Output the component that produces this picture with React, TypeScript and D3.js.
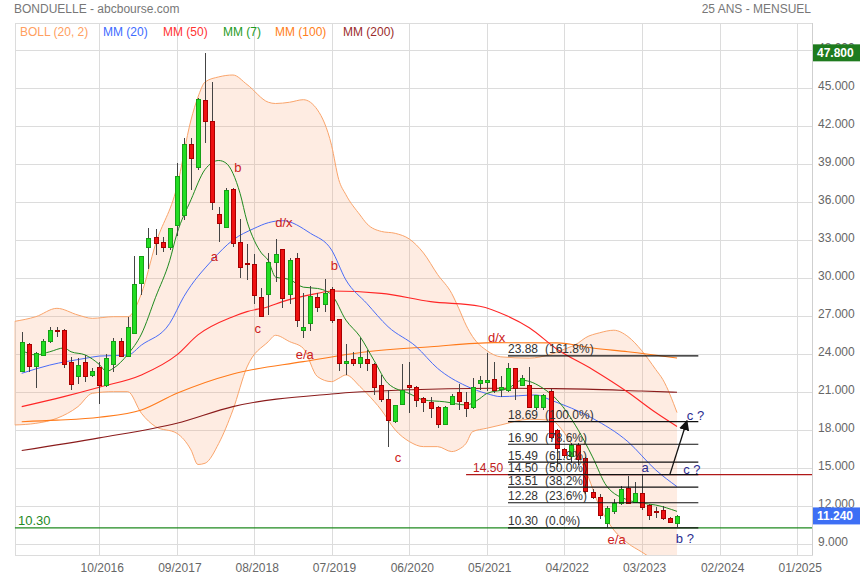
import React from "react";
import * as d3 from "d3";

// ---------- data ----------
const firstMonth = "2015-11";
const opens = [22.68,24.78,23.07,23.94,25.07,25.9,25.92,23.39,22.31,23.36,
  22.34,23.0,21.57,23.23,25.05,23.89,25.71,29.6,32.44,33.28,
  32.9,32.44,34.2,35.0,40.57,38.81,44.07,42.42,35.07,34.07,
  37.02,32.9,31.2,31.1,28.55,28.73,31.3,32.29,28.73,31.58,
  25.92,26.45,28.5,27.94,29.13,26.76,23.34,23.6,23.34,23.6,
  23.23,21.58,20.5,18.7,20.05,21.58,21.39,20.58,20.26,19.81,
  18.5,20.1,21.0,20.26,19.8,21.71,21.84,22.03,21.3,21.18,
  22.89,21.58,21.58,19.87,19.87,21.1,18.0,16.5,15.97,16.8,
  15.8,13.16,12.76,10.65,11.65,12.23,13.47,12.36,13.07,12.1,
  11.6,11.7,11.1,10.7];
const highs = [25.78,24.9,24.2,25.18,26.18,26.18,26.0,23.8,23.68,23.94,
  22.89,23.4,24.0,25.3,25.3,26.97,31.76,31.8,33.94,33.9,
  33.3,34.0,39.07,41.1,41.1,44.2,47.8,45.5,35.65,37.15,
  37.1,34.7,32.7,31.9,29.2,31.97,33.1,32.3,31.6,32.0,
  28.86,29.4,28.86,29.94,29.3,26.8,24.81,24.2,25.3,24.34,
  23.3,22.37,21.2,20.0,23.2,23.42,21.5,20.66,20.66,19.9,
  19.9,20.9,21.63,20.99,22.1,22.29,24.13,23.42,22.3,23.29,
  22.95,22.4,23.03,20.8,20.9,21.3,18.1,16.6,17.0,17.0,
  15.9,13.4,13.0,12.0,12.6,13.6,14.4,13.9,14.5,12.2,
  11.97,12.05,11.15,11.3];
const lows = [22.6,22.63,21.36,23.9,24.9,25.4,22.9,21.18,21.65,21.84,
  22.23,20.1,21.4,22.57,23.8,23.8,25.6,28.68,30.73,31.84,
  32.1,32.2,33.34,34.6,37.0,38.55,40.7,35.39,32.9,33.94,
  32.5,30.0,29.9,28.0,27.0,27.1,29.7,27.68,28.0,26.18,
  25.26,25.84,27.36,27.36,26.45,22.71,22.37,23.1,22.94,22.71,
  20.79,20.2,16.7,18.6,20.0,19.34,19.86,19.47,18.94,18.16,
  18.47,20.05,19.6,19.02,19.7,21.18,21.13,20.92,20.6,21.0,
  20.4,21.5,19.74,19.6,19.6,17.3,15.1,15.8,15.4,15.3,
  13.0,12.6,11.0,10.3,11.4,12.1,12.2,12.3,11.7,10.9,
  11.05,10.95,10.7,10.33];
const closes = [24.94,23.07,24.07,25.05,25.92,25.8,23.23,21.62,23.15,22.28,
  22.68,21.57,23.68,25.05,23.89,26.13,29.52,31.78,33.15,32.8,
  32.44,33.99,38.1,40.57,39.47,44.15,42.44,36.0,34.34,36.97,
  32.76,30.9,31.1,28.7,27.05,31.3,31.89,28.42,31.44,26.71,
  26.13,28.6,27.76,28.81,26.71,23.34,23.5,23.29,23.76,23.29,
  21.44,20.45,18.8,19.97,21.15,21.44,20.39,20.26,19.78,18.5,
  19.86,20.72,20.28,19.77,21.4,21.95,21.97,21.18,21.4,22.89,
  21.31,22.1,19.87,20.79,20.79,17.5,16.6,16.05,16.84,15.7,
  13.2,12.76,11.3,11.84,12.23,13.34,12.28,13.07,11.97,11.31,
  11.55,11.05,10.78,11.24];

// indicator samples (months counted from firstMonth)
const bandMonth = [-1,2,5,8,10,13,15,17,19,22,24,25,26,28,30,32,35,36,38,40,42,44,45,46,48,49,51,53,55,57,59,61,62,63,64,66,68,72,75,77,79,80,82,84,86,88,90,91,93];
const bandUpper = [26.6,26.97,27.63,27.1,26.84,26.97,26.97,28.8,32.7,37.2,42.5,44.3,45.5,45.9,46.05,45.3,43.9,43.8,43.9,44.1,43.3,40.5,37.8,36.6,35.0,34.3,33.7,33.55,33.1,32.0,30.3,28.8,27.6,26.3,25.4,24.3,23.8,23.7,24.0,24.4,24.9,25.3,25.7,25.9,25.4,24.3,22.8,22.0,19.4];
const bandLower = [18.42,18.55,18.95,19.87,20.92,21.05,21.05,19.34,18.29,17.76,16.45,15.3,15.4,16.97,19.6,23.0,25.0,25.5,25.0,24.47,22.24,21.84,22.1,22.37,21.45,20.9,19.6,18.03,17.11,16.71,16.71,16.32,16.5,16.97,17.89,18.16,18.42,18.87,18.8,17.8,15.9,14.87,11.97,10.13,9.08,8.4,7.7,7.4,7.0];

const mm20Month = [0,4,9,11,15,17,21,23,27,30,33,35,37,41,44,46,49,52,56,59,63,66,68,73,75,81,86,90,93];
const mm20Values = [22.5,23.15,23.68,23.86,23.94,24.73,26.44,28.55,31.44,33.02,33.94,34.39,34.55,33.55,32.24,29.87,28.0,26.18,24.6,22.89,21.5,20.9,20.66,20.79,20.39,18.95,17.1,14.87,13.55];

const mm50Month = [0,6,11,17,22,25,30,32,35,37,42,44,51,58,65,69,72,76,81,86,90,93];
const mm50Values = [19.87,20.66,21.4,22.37,23.95,25.53,26.97,27.37,27.76,28.16,28.81,29.0,28.81,28.16,27.8,27.0,26.1,24.4,22.8,21.0,19.4,18.3];

const mm7Month = [0,2,4,6,7,9,11,12,13,15,17,19,21,22,24,26,28,29,31,32,33,34,35,36,38,40,42,44,46,48,50,52,55,57,60,63,65,66,69,71,74,76,79,81,83,86,88,90,93];
const mm7Values = [24.3,23.95,24.2,24.5,24.2,23.95,23.2,22.65,22.9,24.0,25.6,28.5,31.4,33.5,36.2,38.6,39.3,39.1,36.7,34.5,33.0,32.0,31.4,30.1,29.9,29.3,29.2,28.7,26.7,25.4,23.5,21.7,20.9,20.4,20.25,20.0,20.5,20.9,21.3,21.95,21.3,20.4,18.0,15.9,13.6,12.5,12.25,12.1,11.6];

const mm100Month = [0,5,11,17,22,30,40,49,58,67,76,81,86,93];
const mm100Values = [18.68,18.8,19.03,19.6,20.92,22.45,23.42,24.2,24.6,24.92,24.9,24.5,24.2,23.7];

const mm200Month = [0,11,22,30,44,54,67,74,80,88,93];
const mm200Values = [16.4,17.4,18.55,19.87,20.87,21.18,21.32,21.3,21.25,21.1,21.0];

const fibValues = [23.88,18.69,16.90,15.49,14.50,13.51,12.28,10.30];
const fibPct = ["(161.8%)","(100.0%)","(78.6%)","(61.8%)","(50.0%)","(38.2%)","(23.6%)","(0.0%)"];
const fibFromMonth = 69;
const fibToMonth = 96;

const resistValue = 14.50;
const resistFromMonth = 63;
const supportValue = 10.30;

const arrowFrom = { month: 92, value: 14.5 };
const arrowTo = { month: 94.4, value: 18.75 };

const waveText = ["b","a","c","d/x","b","e/a","c","d/x","e/a"];
const waveMonth = [30.7,27.3,33.5,37.2,44.4,40.2,53.4,67.4,84.4];
const waveValue = [38.78,31.76,26.07,34.37,31.0,23.96,15.83,25.3,9.35];

const projText = ["a","c ?","c ?","b ?"];
const projMonth = [88.5,95.6,95.1,94.1];
const projValue = [15.1,19.2,14.92,9.47];

const xTickLabels = ["10/2016","09/2017","08/2018","07/2019","06/2020","05/2021","04/2022","03/2023","02/2024","01/2025"];
const yTickValues = [9,12,15,18,21,24,27,30,33,36,39,42,45,48];

const legendNames = ["BOLL (20, 2)","MM (20)","MM (50)","MM (7)","MM (100)","MM (200)"];

const maxPrice = 47.8;
const lastPrice = 11.24;

// ---------- layout ----------
const W = 860, H = 580;
const P = { left: 14.7, right: 812, top: 23, bottom: 555 };
const FONT = "'Liberation Sans', Arial, Helvetica, sans-serif";

const C = {
  grid: "#dcdcdc",
  text: "#666",
  bandLine: "#f9a46b",
  bandFill: "rgba(250,160,110,0.2)",
  mm20: "#4a6cf7",
  mm50: "#ff2626",
  mm7: "#1f8a1f",
  mm100: "#ff7a1a",
  mm200: "#8b1c1c",
  up: "#22dd22", upEdge: "#16a016",
  down: "#ee1111", downEdge: "#a80000",
  wick: "#444",
  wave: "#cc2020",
  proj: "#2c2c90",
};
const legendColors = ["#ffa060","#3d6bff","#ff3333","#1e9b1e","#ff8020","#9b2c2c"];
const legendX = [20,103,163,223,275,343];

export default function App() {
  const parseYM = d3.timeParse("%Y-%m");
  const parseMY = d3.timeParse("%m/%Y");
  const start = parseYM(firstMonth) as Date;
  const tickDates = xTickLabels.map((s) => parseMY(s) as Date);

  const x = d3.scaleTime()
    .domain([tickDates[0], tickDates[tickDates.length - 1]])
    .range([99.3, 797.2]);
  const y = d3.scaleLinear().domain([9, 45]).range([544.3, 88.3]);

  const xm = (m: number) => {
    const f = Math.floor(m);
    const a = x(d3.timeMonth.offset(start, f));
    const b = x(d3.timeMonth.offset(start, f + 1));
    return a + (b - a) * (m - f);
  };

  const mkLine = (months: number[], vals: number[]) =>
    d3.line<number>()
      .x((_, i) => xm(months[i]))
      .y((v) => y(v))
      .curve(d3.curveMonotoneX)(vals) || "";

  const bandArea = d3.area<number>()
    .x((_, i) => xm(bandMonth[i]))
    .y0((_, i) => y(bandLower[i]))
    .y1((_, i) => y(bandUpper[i]))
    .curve(d3.curveMonotoneX)(bandMonth) || "";

  const fmt = d3.format(".3f");

  const a0x = xm(arrowFrom.month), a0y = y(arrowFrom.value);
  const a1x = xm(arrowTo.month), a1y = y(arrowTo.value);

  return (
    <svg width={W} height={H} style={{ position: "absolute", left: 0, top: 0, background: "#fff" }}
      fontFamily={FONT}>
      <defs>
        <clipPath id="plotClip">
          <rect x={P.left} y={P.top} width={P.right - P.left} height={P.bottom - P.top} />
        </clipPath>
        <marker id="arrowHead" viewBox="0 0 10 10" refX="9" refY="5" markerWidth="8" markerHeight="8" orient="auto">
          <path d="M0,0 L10,5 L0,10 z" fill="#111" />
        </marker>
      </defs>

      {/* title */}
      <text x={14} y={13} fontSize={12} fill="#777">BONDUELLE - abcbourse.com</text>
      <text x={811} y={13} fontSize={12} fill="#777" textAnchor="end">25 ANS - MENSUEL</text>

      {/* grid */}
      <g shapeRendering="crispEdges">
        {yTickValues.map((v) => (
          <line key={"h" + v} x1={P.left} x2={P.right} y1={Math.round(y(v)) + 0.5} y2={Math.round(y(v)) + 0.5} stroke={C.grid} />
        ))}
        {tickDates.map((d, i) => (
          <line key={"v" + i} x1={Math.round(x(d)) + 0.5} x2={Math.round(x(d)) + 0.5} y1={P.top} y2={P.bottom} stroke={C.grid} />
        ))}
        <rect x={Math.round(P.left) + 0.5} y={P.top + 0.5} width={P.right - Math.round(P.left)} height={P.bottom - P.top} fill="none" stroke={C.grid} />
        <line x1={P.right + 0.5} x2={P.right + 0.5} y1={P.top} y2={P.bottom} stroke="#cfcfcf" />
      </g>

      <g clipPath="url(#plotClip)">
        {/* Bollinger */}
        <path d={bandArea} fill={C.bandFill} stroke="none" />
        <path d={mkLine(bandMonth, bandUpper)} fill="none" stroke={C.bandLine} strokeWidth={1} />
        <path d={mkLine(bandMonth, bandLower)} fill="none" stroke={C.bandLine} strokeWidth={1} />
        <line x1={xm(bandMonth[0])} x2={xm(bandMonth[0])} y1={y(bandUpper[0])} y2={y(bandLower[0])} stroke={C.bandLine} />

        {/* moving averages */}
        <path d={mkLine(mm200Month, mm200Values)} fill="none" stroke={C.mm200} strokeWidth={1.1} />
        <path d={mkLine(mm100Month, mm100Values)} fill="none" stroke={C.mm100} strokeWidth={1.1} />
        <path d={mkLine(mm50Month, mm50Values)} fill="none" stroke={C.mm50} strokeWidth={1.1} />
        <path d={mkLine(mm20Month, mm20Values)} fill="none" stroke={C.mm20} strokeWidth={1} />
        <path d={mkLine(mm7Month, mm7Values)} fill="none" stroke={C.mm7} strokeWidth={1} />

        {/* candles */}
        <g shapeRendering="crispEdges">
          {closes.map((c, i) => {
            const o = opens[i];
            const up = c >= o;
            const cx = Math.round(xm(i));
            const top = Math.round(y(Math.max(o, c)));
            const bot = Math.round(y(Math.min(o, c)));
            const h = Math.max(1, bot - top);
            return (
              <g key={"c" + i}>
                <line x1={cx + 0.5} x2={cx + 0.5} y1={y(highs[i])} y2={y(lows[i])} stroke={C.wick} />
                <rect x={cx - 1.5} y={top + 0.5} width={4} height={h}
                  fill={up ? C.up : C.down} stroke={up ? C.upEdge : C.downEdge} strokeWidth={1} />
              </g>
            );
          })}
        </g>

        {/* support / resistance */}
        <line x1={P.left} x2={P.right} y1={y(supportValue)} y2={y(supportValue)} stroke="#1f8a1f" strokeWidth={1.2} />
        <line x1={xm(resistFromMonth)} x2={P.right} y1={y(resistValue)} y2={y(resistValue)} stroke="#b01818" strokeWidth={1.2} />

        {/* fibonacci */}
        {fibValues.map((v, i) => (
          <g key={"f" + i}>
            <line x1={xm(fibFromMonth)} x2={xm(fibToMonth)} y1={y(v)} y2={y(v)} stroke="#111" strokeWidth={1.2} />
            <text x={xm(fibFromMonth)} y={y(v) - 2.5} fontSize={12} fill="#333">{v.toFixed(2)}</text>
            <text x={xm(fibFromMonth) + 37} y={y(v) - 2.5} fontSize={12} fill="#333">{fibPct[i]}</text>
          </g>
        ))}

        {/* arrow */}
        <line x1={a0x} y1={a0y} x2={a1x} y2={a1y} stroke="#111" strokeWidth={1.3} markerEnd="url(#arrowHead)" />

        {/* labels */}
        <text x={18} y={y(supportValue) - 3} fontSize={13} fill="#1f8a1f">{supportValue.toFixed(2)}</text>
        <text x={xm(resistFromMonth) + 7} y={y(resistValue) - 3} fontSize={12} fill="#c02020">{resistValue.toFixed(2)}</text>

        {waveText.map((t, i) => (
          <text key={"w" + i} x={xm(waveMonth[i])} y={y(waveValue[i])} dy="0.35em" fontSize={13}
            fill={C.wave} textAnchor="middle">{t}</text>
        ))}
        {projText.map((t, i) => (
          <text key={"p" + i} x={xm(projMonth[i])} y={y(projValue[i])} dy="0.35em" fontSize={13}
            fill={C.proj} textAnchor="middle">{t}</text>
        ))}

        {/* legend */}
        {legendNames.map((n, i) => (
          <text key={"l" + i} x={legendX[i]} y={36} fontSize={12} fill={legendColors[i]}>{n}</text>
        ))}
      </g>

      {/* y axis labels */}
      {yTickValues.map((v) => (
        <text key={"yl" + v} x={818} y={y(v) + 2} fontSize={12} fill={C.text}>{fmt(v)}</text>
      ))}

      {/* price tags */}
      <rect x={813} y={y(maxPrice) - 8.5} width={47} height={17} fill="#1e7b1e" />
      <text x={817} y={y(maxPrice) + 4.5} fontSize={12} fontWeight="bold" fill="#fff">{fmt(maxPrice)}</text>
      <rect x={813} y={y(lastPrice) - 8.5} width={47} height={17} fill="#3d6ff5" />
      <text x={817} y={y(lastPrice) + 4.5} fontSize={12} fontWeight="bold" fill="#fff">{fmt(lastPrice)}</text>

      {/* x axis labels */}
      {tickDates.map((d, i) => (
        <text key={"xl" + i} x={x(d) + 3} y={572} fontSize={12} fill={C.text} textAnchor="middle">{xTickLabels[i]}</text>
      ))}
    </svg>
  );
}
